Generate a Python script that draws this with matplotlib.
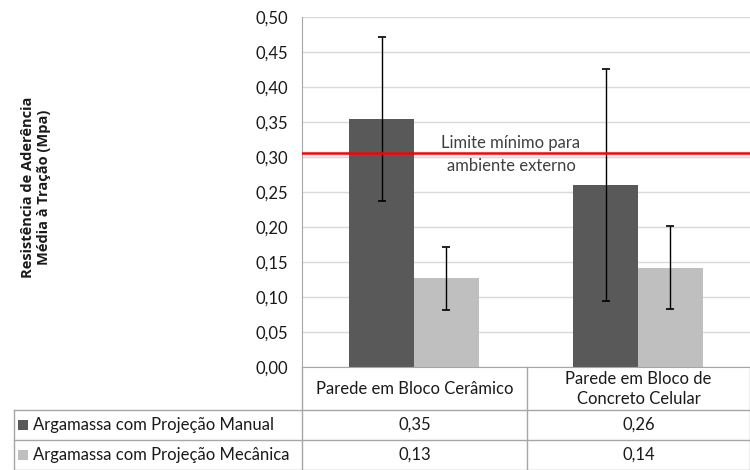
import matplotlib
matplotlib.use("Agg")
import matplotlib.pyplot as plt
from matplotlib.lines import Line2D
from matplotlib.patches import Rectangle
import numpy as np

plt.rcParams['font.family'] = ['Lato', 'DejaVu Sans']

categories = ["Parede em Bloco Cerâmico", "Parede em Bloco de\nConcreto Celular"]
series_names = ["Argamassa com Projeção Manual", "Argamassa com Projeção Mecânica"]
manual = [0.354, 0.260]
mecanica = [0.127, 0.142]
manual_err = [0.117, 0.166]
mecanica_err = [0.045, 0.059]
limite = 0.306
limite_text = "Limite mínimo para\nambiente externo"
yticks = [0.00, 0.05, 0.10, 0.15, 0.20, 0.25, 0.30, 0.35, 0.40, 0.45, 0.50]
ylabel = "Resistência de Aderência\nMédia à Tração (Mpa)"

colors = ["#595959", "#BFBFBF"]
W, H = 750, 470
fig = plt.figure(figsize=(W / 100, H / 100), dpi=100)

def fx(px):
    return px / W

def fy(py):
    return 1 - py / H

left, right, top, bottom = 302, 750, 17, 367
ax = fig.add_axes([fx(left), fy(bottom), fx(right - left), (bottom - top) / H])
x = np.arange(len(categories)) + 0.5
bw = 0.289
ax.bar(x - bw / 2, manual, bw, color=colors[0], zorder=2)
ax.bar(x + bw / 2, mecanica, bw, color=colors[1], zorder=2)
ax.errorbar(x - bw / 2, manual, yerr=manual_err, fmt='none', ecolor='black',
            elinewidth=1, capsize=3.0, capthick=1.2, zorder=3)
ax.errorbar(x + bw / 2, mecanica, yerr=mecanica_err, fmt='none', ecolor='black',
            elinewidth=1, capsize=3.0, capthick=1.2, zorder=3)
ax.axhline(limite, color='#FF0000', lw=1.8, zorder=4)
ax.text(0.933, limite - 0.002, limite_text, ha='center', va='center', fontsize=12,
        color='#404040', linespacing=1.55, zorder=5)

ax.set_xlim(0, len(categories))
ax.set_ylim(0, 0.5)
ax.set_yticks(yticks)
ax.set_yticklabels([f"{v:.2f}".replace('.', ',') for v in yticks], fontsize=12, color='#1a1a1a')
ax.set_xticks([])
ax.grid(axis='y', color='#D9D9D9', lw=1, zorder=0)
ax.tick_params(axis='y', length=0, pad=10)
for s in ['top', 'right']:
    ax.spines[s].set_visible(False)
ax.spines['left'].set_color('#A6A6A6')
ax.spines['bottom'].set_color('#A6A6A6')

fig.text(fx(36), fy(187), ylabel, rotation=90, ha='center', va='center',
         fontsize=10.5, fontweight='bold', family=['Open Sans', 'DejaVu Sans'],
         color='#1a1a1a', linespacing=1.25)

# data table
lc = '#A6A6A6'
col_edges = [left, 527, right]
def hline(y, x0, x1):
    fig.add_artist(Line2D([fx(x0), fx(x1)], [fy(y), fy(y)], color=lc, lw=1))
def vline(xp, y0, y1):
    fig.add_artist(Line2D([fx(xp), fx(xp)], [fy(y0), fy(y1)], color=lc, lw=1))

hline(410, 14, 750)
hline(440, 14, 750)
hline(469.5, 14, 750)
vline(14, 410, 470)
vline(left, bottom, 470)
vline(527, bottom, 470)
vline(749.5, bottom, 470)

for i, c in enumerate(categories):
    cx = (col_edges[i] + col_edges[i + 1]) / 2
    fig.text(fx(cx), fy(389), c, ha='center', va='center', fontsize=12,
             color='#1a1a1a', linespacing=1.3)

rows = [manual, mecanica]
row_y = [425, 455]
for r, (name, vals) in enumerate(zip(series_names, rows)):
    fig.add_artist(Rectangle((fx(18), fy(row_y[r] + 5)), fx(10), 10 / H,
                             facecolor=colors[r], edgecolor='none'))
    fig.text(fx(33), fy(row_y[r]), name, ha='left', va='center', fontsize=12, color='#1a1a1a')
    for i, v in enumerate(vals):
        cx = (col_edges[i] + col_edges[i + 1]) / 2
        fig.text(fx(cx), fy(row_y[r]), f"{v:.2f}".replace('.', ','), ha='center',
                 va='center', fontsize=12, color='#1a1a1a')

fig.savefig("out.png", dpi=100)
